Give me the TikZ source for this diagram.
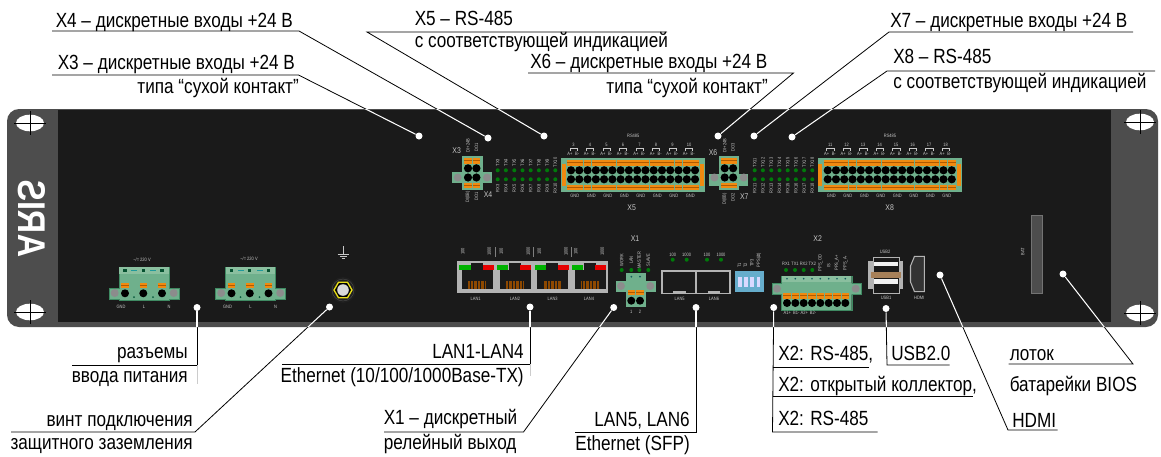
\documentclass[tikz,border=0pt]{standalone}
\usepackage{fontspec}
\setmainfont[FakeStretch=0.835]{Liberation Sans}
\usetikzlibrary{shapes.geometric}
\definecolor{flange}{HTML}{4D4D4D}
\definecolor{panelbk}{HTML}{1A1A1A}
\definecolor{bodygr}{HTML}{6FB08C}
\definecolor{bodylt}{HTML}{8ABF9F}
\definecolor{bodyed}{HTML}{3F8A62}
\definecolor{pin}{HTML}{003F16}
\definecolor{ora}{HTML}{F08A10}
\definecolor{orad}{HTML}{B05A00}
\definecolor{earg}{HTML}{8C8C8C}
\definecolor{ledg}{HTML}{007A0A}
\definecolor{tinyc}{HTML}{C8C8C8}
\definecolor{portg}{HTML}{B3B3B3}
\definecolor{tealc}{HTML}{1F9A9A}
\newcounter{tn}
\tikzset{
  tinylab/.style={text=tinyc,font=\fontsize{3.6}{4}\selectfont,inner sep=0pt},
  xlab/.style={text=tinyc,font=\fontsize{6.2}{7}\selectfont,inner sep=0pt},
  callout/.style={font=\fontsize{15.4}{17}\selectfont,inner sep=0pt,text=black},
  dotnode/.style={circle,fill=white,draw=none,minimum size=5.25pt,inner sep=0pt},
  leaderb/.style={draw=black,line width=0.6pt},
  leaderw/.style={draw=white,line width=0.8pt},
}
\newcommand{\tl}[4][0]{\stepcounter{tn}\node[tinylab,rotate=#1] (tl\arabic{tn}) at (#2,#3) {#4};}
\newcommand{\xl}[3]{\stepcounter{tn}\node[xlab] (xl\arabic{tn}) at (#1,#2) {#3};}
\newcommand{\orng}[3][7.4]{\fill[ora] (#2-#1/2,#3) rectangle (#2+#1/2,#3+5.2);\draw[orad,line width=.35pt] (#2-#1/2,#3+2.4)--(#2+#1/2,#3+2.4);}
\newcommand{\bolt}[2]{\fill[earg] (#1,#2) circle[radius=4];}
\newcommand{\pwrblock}[1]{\begin{scope}[shift={(#1,0)}]
  \fill[bodygr,draw=bodyed,line width=.3pt] (119,267) -- (169,267) -- (169,288) -- (179,288) -- (179,299) -- (169,299) -- (169,300) -- (119,300) -- (119,299) -- (109,299) -- (109,288) -- (119,288) -- cycle;
  \fill[bodylt] (119.3,267.3) rectangle (168.7,274);
  \foreach \x in {125,143.3,162}{\fill[pin!80!tealc] (\x-1.6,269) rectangle (\x+1.6,272);\orng{\x}{283}\fill[pin] (\x,293.3) circle[radius=4];}
  \foreach \x in {134,153}{\fill[tealc] (\x-3,270) rectangle (\x+3,271);\fill[pin!70!tealc] (\x,297) circle[radius=1];}
  \bolt{114.7}{293}\bolt{173.7}{293}
  \tl{121}{307}{GND}\tl{144}{307}{L}\tl{169}{307}{N}
\end{scope}}
\newcommand{\dblblock}[3]{\begin{scope}[shift={(#1,0)}]
  \fill[bodygr] (462,156) rectangle (482.7,190);
  \fill[bodygr] (452,#2) rectangle (491.7,#3);
  \foreach \x in {468,476.4}{\orng[7.6]{\x}{158.3}\orng[7.6]{\x}{183}
    \foreach \y in {168.3,177.5}{\fill[pin] (\x,\y) circle[radius=4.1];}}
  \bolt{457.7}{177.5}\bolt{487}{177.5}
\end{scope}}
\newcommand{\ledrow}[3]{\begin{scope}[shift={(#1,0)}]
  \foreach \x [count=\i from 0,evaluate=\i as \n using int(#2+\i)] in {497.7,505.9,514.3,522.5,530.7,538.9,547.1,555.3}{
    \fill[ledg] (\x,170.3) circle[radius=2];\fill[ledg] (\x,179.3) circle[radius=2];
    \tl[90]{\x}{162.5}{TX\n}\tl[90]{\x}{188.5}{RX\n}}
\end{scope}}
\newcommand{\bigblock}[2]{\begin{scope}[shift={(#1,0)}]
  \fill[bodygr] (561,157.7) rectangle (705,191.7);
  \fill[ora] (561.7,164) rectangle (565.7,186);\fill[ora] (699.9,164) rectangle (703.9,186);
  \foreach \i in {0,...,15}{\pgfmathsetmacro\x{571+8.27*\i}
    \orng[7.9]{\x}{160.3}\orng[7.9]{\x}{184.6}
    \fill[pin] (\x,170.3) circle[radius=4.1];\fill[pin] (\x,179.3) circle[radius=4.1];}
  \tl{633.3}{136}{RS485}
  \foreach \i in {0,...,7}{\pgfmathsetmacro\x{573.5+16.5*\i}
    \pgfmathtruncatemacro\n{#2+\i}
    \tl{\x}{145}{\n}\tl{\x-3.6}{153.7}{A+}\tl{\x+3.6}{153.7}{B-}
    \draw[tinyc,line width=.25pt] (\x-3.6,151) -- (\x-3.6,147.8) -- (\x+3.6,147.8) -- (\x+3.6,151);
    \tl{\x+1.2}{196}{GND}}
\end{scope}}
\newcommand{\leaderset}[1]{\draw[#1] (dA) -- (cA) -- (hA);
  \draw[#1] (dB) -- (cB) -- (hB);\draw[#1] (dC) -- (cC) -- (hC);
  \draw[#1] (dD) -- (cD) -- (hD);\draw[#1] (dE) -- (cE) -- (hE);
  \draw[#1] (dF) -- (cF) -- (hF);\draw[#1] (dG) -- (cG) -- (hG);
  \draw[#1] (dH) -- (cH) -- (hH);\draw[#1] (dI) -- (cI) -- (hI);
  \draw[#1] (dJ) -- (cJ) -- (hJ);\draw[#1] (dK) -- (cK) -- (hK);
  \draw[#1] (dL) -- (cL) -- (hL);\draw[#1] (mL) -- (nL);\draw[#1] (oL) -- (pL);
  \draw[#1] (dM) -- (cM) -- (hM);\draw[#1] (dN) -- (cN) -- (hN);
  \draw[#1] (dO) -- (cO) -- (hO);}
\begin{document}
\begin{tikzpicture}[x=0.75pt,y=-0.75pt]
\useasboundingbox (0,0) rectangle (1161,457);
\fill[white] (0,0) rectangle (1161,457);
% panel
\path[fill=flange,rounded corners=9pt] (7,109) rectangle (1158,327);
\fill[panelbk] (58,109.6) rectangle (1111,322);
\foreach \x/\y in {30/123,30/312,1140/122,1140/313}{
  \fill[white] (\x,\y) ellipse[x radius=14,y radius=8.3];
  \draw[black,line width=.6pt] (\x-16,\y) -- (\x+16,\y) (\x,\y-12) -- (\x,\y+12);}
\node[text=white,inner sep=0pt,rotate=90,font=\fontsize{29}{30}\selectfont\bfseries] (logo) at (32,218.5) {\scalebox{1}[-1]{ARIS}};
% power
\pwrblock{0}\pwrblock{106.5}
\tl{142}{260}{\textasciitilde/= 220 V}\tl{249}{259}{\textasciitilde/= 220 V}
% earth
\draw[tinyc,line width=.35pt] (343,246) -- (343,254) (337.5,254) -- (348.5,254) (339.5,256) -- (346.5,256) (341.5,258) -- (344.5,258);
\fill[black!60!flange] (343,290) circle[radius=13];
\draw[flange,line width=.3pt] (343,290) circle[radius=11];
\draw[yellow!90!black,fill=black,line width=1pt] (352,290) -- (347.5,297.8) -- (338.5,297.8) -- (334,290) -- (338.5,282.2) -- (347.5,282.2) -- cycle;
\fill[black!15] (343,290) circle[radius=5.8];
% X3 X4
\dblblock{0}{172}{183.3}
\xl{456.7}{151}{X3}\xl{488}{194.5}{X4}
\tl[90]{468}{145.5}{DI+24В}\tl[90]{476.5}{147}{DO1}
\tl[90]{468}{197}{DI(0В)}\tl[90]{476.5}{196}{DO1}
\ledrow{0}{3}{}
\bigblock{0}{3}
\xl{631.7}{208}{X5}
% X6 X7
\dblblock{256.7}{174}{185.7}
\xl{713}{152.7}{X6}\xl{744.3}{196.7}{X7}
\tl[90]{724.7}{145.5}{DI+24В}\tl[90]{733}{147}{DO3}
\tl[90]{724.7}{199}{DI(0В)}\tl[90]{733}{197}{DO2}
\ledrow{257}{11}{}
\bigblock{256.7}{11}
\xl{889.7}{208}{X8}
% LAN
\fill[portg] (456.7,261) rectangle (608.3,293.3);
\foreach \x in {461.7,499.5,537.3,575}{
  \fill[panelbk] (\x,270) rectangle (\x+31,289.3);
  \fill[panelbk] (\x+9,263) rectangle (\x+21,270);
  \foreach \k in {0,...,12}{\fill[orad!80!black] (\x+6.3+1.4*\k,281) rectangle (\x+6.9+1.4*\k,289.3);}
}
\foreach \x in {459.3,497,535,572}{\fill[green!70!black] (\x,265) rectangle (\x+11.3,270);}
\foreach \x in {482.7,520.3,558.3,595}{\fill[red!90!black] (\x,265) rectangle (\x+11,270);}
\tl{475.7}{299}{LAN1}\tl{515}{299}{LAN2}\tl{552.7}{299}{LAN3}\tl{589}{299}{LAN4}
\foreach \x in {462.7,501.3,539.3,575.7}{\tl[90]{\x}{251.3}{100}}
\foreach \x in {489.3,528.3,566,602.3}{\tl[90]{\x}{251.3}{1000}}
\foreach \x in {495.7,533.3,571.3}{\draw[gray,line width=.4pt] (\x,247) -- (\x,257);}
% X1
\xl{635}{239}{X1}
\foreach \x/\t in {621.7/WORK,631.3/LAN,639.3/MASTER,648.3/SLAVE}{\fill[ledg] (\x,270) circle[radius=2];\tl[90]{\x}{260}{\t}}
\fill[bodygr] (625.7,273.3) rectangle (646.3,307.3);
\fill[bodygr] (616,280.7) rectangle (655.7,292);
\bolt{621}{286}\bolt{650.3}{286}
\foreach \x/\t in {631.3/1,640/2}{\fill[tealc!60!black] (\x,276.7) circle[radius=1];\orng[7.4]{\x}{290}\fill[pin] (\x,300.7) circle[radius=4];\tl{\x}{311.7}{\t}}
% SFP
\fill[portg] (661.3,270) rectangle (731,294.3);
\fill[panelbk] (662.7,271.7) rectangle (695.3,292.7);
\fill[panelbk] (697,271.7) rectangle (729.3,292.7);
\fill[portg] (673.3,291) rectangle (685.7,293);\fill[portg] (707.7,291) rectangle (720,293);
\tl{679.7}{299}{LAN5}\tl{714}{299}{LAN6}
\foreach \x/\t in {672.7/100,686.7/1000,707/100,721/1000}{\fill[ledg] (\x,259.7) circle[radius=2];\tl{\x}{255}{\t}}
% DIP
\fill[blue!30!cyan!50!gray!80!white] (735.3,271) rectangle (764.3,292);
\foreach \x in {740,746,752,758.3}{\fill[white!85!blue] (\x-1.8,276.7) rectangle (\x+1.8,286.7);}
\foreach \x/\t/\y in {739.5/T1/265.5,745.5/T2/265.5,752/TP3/263,759/PPS(dt)/260}{\tl[90]{\x}{\y}{\t}}
% X2
\xl{817.7}{239}{X2}
\foreach \x/\t in {786/RX1,795/TX1,803.7/RX2,812.3/TX2}{\fill[ledg] (\x,270) circle[radius=2];\tl{\x}{264.3}{\t}}
\foreach \x/\t/\y in {820.3/PPS\_OD/263,828.7/IS/266,837/PPS\_A+/263,845.3/PPS\_A-/263}{\tl[90]{\x}{\y}{\t}}
\fill[bodygr,draw=bodyed,line width=.3pt] (781.3,276) -- (851.7,276) -- (851.7,283.3) -- (861,283.3) -- (861,294.3) -- (851.7,294.3) -- (851.7,310) -- (781.3,310) -- (781.3,294.3) -- (772,294.3) -- (772,283.3) -- (781.3,283.3) -- cycle;
\fill[bodylt] (781.6,276.3) rectangle (851.4,281.5);
\bolt{777}{288.7}\bolt{855.7}{288.7}
\foreach \i in {0,...,7}{\pgfmathsetmacro\x{787+8.33*\i}
  \fill[tealc!60!black] (\x,278.7) circle[radius=.9];\orng[7.4]{\x}{293.3}\fill[pin] (\x,303) circle[radius=4];}
\foreach \x/\t in {787.3/A1+,796.3/B1-,804.3/A2+,813/B2-}{\tl{\x}{313.3}{\t}}
% USB
\fill[portg] (868.3,261) rectangle (903.3,289);
\fill[panelbk] (872.7,257) rectangle (899,293.3);
\draw[portg,line width=.7pt] (873,257) rectangle (899,293);
\fill[white!90!gray] (874,261.7) rectangle (898,266);
\fill[white!90!gray] (874,279) rectangle (898,284);
\fill[brown!60!gray] (871,271.7) rectangle (901,277.7);
\tl{885}{251.7}{USB2}\tl{886}{298.3}{USB1}
% HDMI
\draw[portg,fill=black!80,line width=.8pt] (924.3,256.3) -- (914.5,256.3) -- (910.5,266) -- (910.5,282) -- (914.5,291.7) -- (924.3,291.7) -- cycle;
\tl{919.3}{298.3}{HDMI}
% BAT
\draw[black!55,fill=flange,line width=.5pt] (1031.7,215) rectangle (1042.7,293.3);
\tl[90]{1022.7}{251.7}{BAT}
% leader nodes
\node[dotnode] (dA) at (419,136) {};
\node[dotnode] (dB) at (488,138) {};
\node[dotnode] (dC) at (544,136) {};
\node[dotnode] (dD) at (718,136) {};
\node[dotnode] (dE) at (754,136) {};
\node[dotnode] (dF) at (792,137) {};
\node[dotnode] (dG) at (197,307.5) {};
\node[dotnode] (dH) at (329.5,307) {};
\node[dotnode] (dI) at (530,307) {};
\node[dotnode] (dJ) at (613.7,307.5) {};
\node[dotnode] (dK) at (696,307.5) {};
\node[dotnode] (dL) at (773.7,307.5) {};
\node[dotnode] (dM) at (886,308.5) {};
\node[dotnode] (dN) at (940,275) {};
\node[dotnode] (dO) at (1063,274) {};
\coordinate (cA) at (298.5,75);  \coordinate (hA) at (52,75);
\coordinate (cB) at (299,31);  \coordinate (hB) at (52,31);
\coordinate (cC) at (367,32);  \coordinate (hC) at (667,32);
\coordinate (cD) at (793.5,73);  \coordinate (hD) at (528,73);
\coordinate (cE) at (889,32);  \coordinate (hE) at (1133,32);
\coordinate (cF) at (887,71);  \coordinate (hF) at (1155,71);
\coordinate (cG) at (197,365); \coordinate (hG) at (72,365);
\coordinate (cH) at (195,432); \coordinate (hH) at (11,432);
\coordinate (cI) at (530,364); \coordinate (hI) at (282,364);
\coordinate (cJ) at (523.5,432); \coordinate (hJ) at (384,432);
\coordinate (cK) at (696,432); \coordinate (hK) at (574.5,432);
\coordinate (cL) at (772.5,432); \coordinate (hL) at (877.6,432);
\coordinate (mL) at (772.5,367); \coordinate (nL) at (869,367);
\coordinate (oL) at (772.5,396); \coordinate (pL) at (973,396);
\coordinate (cM) at (887,365); \coordinate (hM) at (949.6,365);
\coordinate (cN) at (1008,430);\coordinate (hN) at (1057.5,430);
\coordinate (cO) at (1133,364);\coordinate (hO) at (1008.5,364);
\leaderset{leaderb}
\draw[black!20,line width=.6pt] (cG) -- ++(0,19) (cI) -- ++(0,12);
\begin{scope}
  \clip[rounded corners=9pt] (7,109) rectangle (1158,327);
  \leaderset{leaderw}
\end{scope}
% callouts
\node[callout,anchor=base west] (tB) at (55.5,27) {X4 – дискретные входы +24 В};
\node[callout,anchor=base west] (tA) at (57.5,69) {X3 – дискретные входы +24 В};
\node[callout,anchor=base east] (tA2) at (299,93) {типа “сухой контакт”};
\node[callout,anchor=base west] (tC) at (414.5,25) {X5 – RS-485};
\node[callout,anchor=base west] (tC2) at (414.5,47) {с соответствующей индикацией};
\node[callout,anchor=base west] (tD) at (530,68) {X6 – дискретные входы +24 В};
\node[callout,anchor=base east] (tD2) at (768,93) {типа “сухой контакт”};
\node[callout,anchor=base west] (tE) at (890,27) {X7 – дискретные входы +24 В};
\node[callout,anchor=base west] (tF) at (893,63) {X8 – RS-485};
\node[callout,anchor=base west] (tF2) at (893,88) {с соответствующей индикацией};
\node[callout,anchor=base east] (tG) at (188,358) {разъемы};
\node[callout,anchor=base east] (tG2) at (188,382) {ввода питания};
\node[callout,anchor=base east] (tH) at (193,426) {винт подключения};
\node[callout,anchor=base east] (tH2) at (193,449) {защитного заземления};
\node[callout,anchor=base east] (tI) at (524,358) {LAN1-LAN4};
\node[callout,anchor=base east] (tI2) at (524,382) {Ethernet (10/100/1000Base-TX)};
\node[callout,anchor=base west] (tJ) at (383.5,424) {X1 – дискретный};
\node[callout,anchor=base west] (tJ2) at (383.5,449) {релейный выход};
\node[callout,anchor=base east] (tK) at (690,426) {LAN5, LAN6};
\node[callout,anchor=base east] (tK2) at (690,450) {Ethernet (SFP)};
\node[callout,anchor=base west] (tL) at (778,360) {X2: RS-485,};
\node[callout,anchor=base west] (tL2) at (778,391) {X2: открытый коллектор,};
\node[callout,anchor=base west] (tL3) at (778,425) {X2: RS-485};
\node[callout,anchor=base west] (tM) at (891,360) {USB2.0};
\node[callout,anchor=base west] (tN) at (1012,427) {HDMI};
\node[callout,anchor=base west] (tO) at (1009.5,360) {лоток};
\node[callout,anchor=base west] (tO2) at (1009.5,391) {батарейки BIOS};
\end{tikzpicture}
\end{document}
